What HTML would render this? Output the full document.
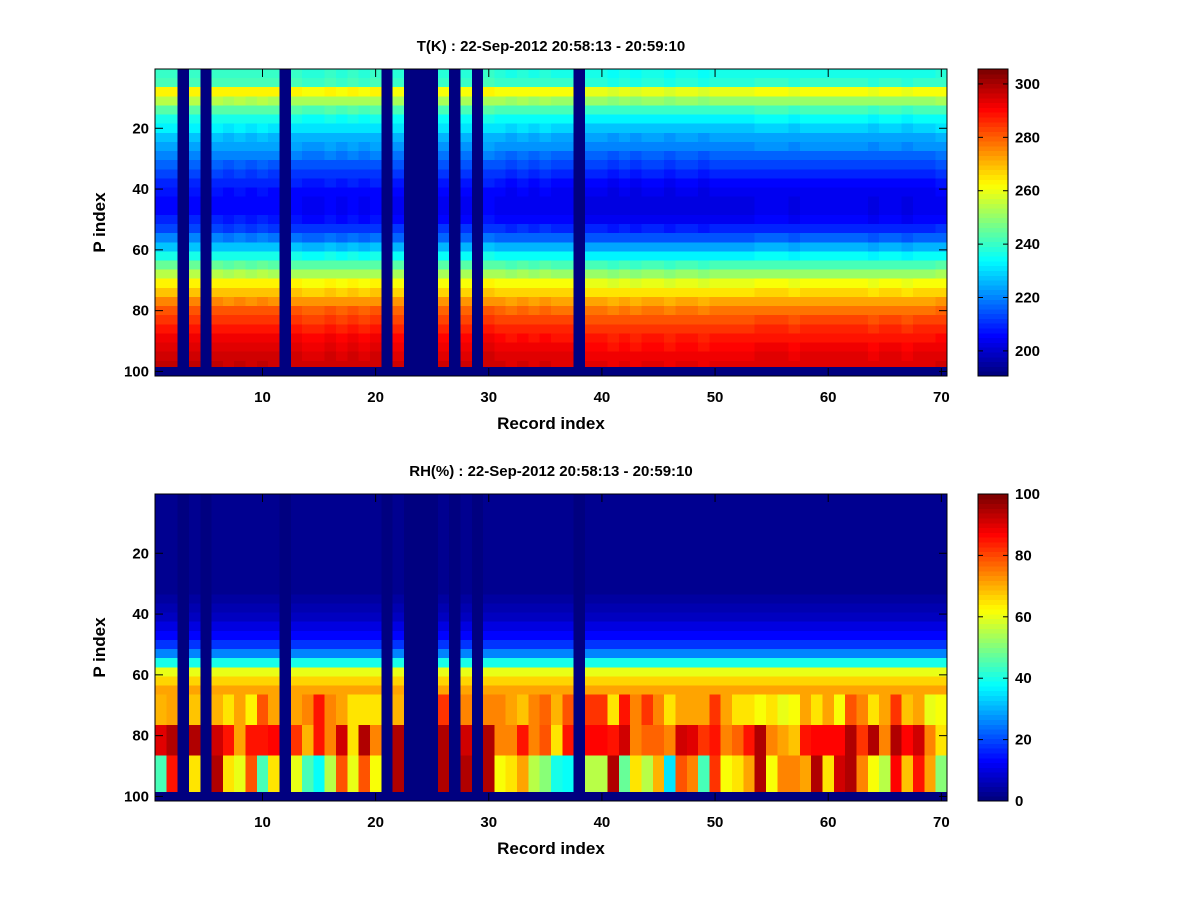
<!DOCTYPE html>
<html><head><meta charset="utf-8">
<style>
body{margin:0;background:#fff;}
svg{display:block;font-family:"Liberation Sans",Arial,sans-serif;font-weight:bold;}
</style></head>
<body>
<svg id="fig" width="1200" height="900" viewBox="0 0 1200 900" xmlns="http://www.w3.org/2000/svg">
<rect width="1200" height="900" fill="#fff"/>
<g id="top"></g>
<g id="bot"></g>
</svg>
<script>
// ---- data ----
const records = Array.from({length:70},(_,i)=>i+1);
const missingRecords = [3,5,12,21,23,24,25,27,29,38];
// temperature band values, each band = 3 P-index rows (rows 1..99)
const tBands = [238,240,262,252,242,235,230,225,222,218,214,210,207,205,204,204,206,210,217,226,235,243,252,262,268,274,280,284,288,291,293,295,296];
const tColOffset = [2,2,0,2,0,2,1,2,1,2,1,0,1,0,0,1,0,1,0,1,0,0,0,0,0,0,0,0,0,1,0,-1,0,-1,0,-1,-1,0,-2,-2,-3,-2,-3,-2,-2,-3,-2,-2,-3,-2,-2,-2,-2,-1,-1,-1,-2,-1,-1,-1,-1,-1,-1,-2,-1,-1,-2,-1,-1,0];
// RH band values for rows 1..66 (3 rows each)
const rhBands = [1,1,1,1,1,1,1,1,1,1,1,3,5,7,9,12,17,25,40,60,66,72];
// RH per-record values for row bands A (67-76), B (77-86), C (87-98)
const rhA = [70,72,0,68,0,70,65,72,63,80,72,0,72,75,85,75,72,65,65,65,0,70,0,0,0,82,0,75,0,75,75,72,68,75,78,70,80,0,82,82,65,85,75,82,75,65,72,72,72,82,72,65,65,62,65,60,62,72,65,72,62,80,75,65,72,82,68,72,60,62];
const rhB = [90,95,0,95,0,92,85,72,85,85,88,0,82,70,85,75,92,65,95,75,0,95,0,0,0,95,0,92,0,95,75,75,85,75,80,65,85,0,88,88,85,92,75,78,78,75,92,90,82,85,75,78,85,95,75,72,68,85,88,88,88,95,82,95,75,95,88,92,75,65];
const rhC = [45,85,0,65,0,95,65,60,80,45,65,0,60,45,38,55,80,60,80,62,0,95,0,0,0,95,0,95,0,95,62,65,72,55,50,40,38,0,55,55,95,48,65,55,70,35,80,75,45,82,62,65,72,95,62,75,75,72,95,65,92,95,75,62,55,88,68,85,72,50];
const pTicks = [20,40,60,80,100];
const xTicks = [10,20,30,40,50,60,70];
const tCbarTicks = [200,220,240,260,280,300];
const rhCbarTicks = [0,20,40,60,80,100];

const NS="http://www.w3.org/2000/svg";
function mk(parent,tag,attrs){const e=document.createElementNS(NS,tag);for(const k in attrs)e.setAttribute(k,attrs[k]);parent.appendChild(e);return e;}
function jet(t){t=Math.max(0,Math.min(1,t));t=Math.round(t*63)/63;
 const c=v=>Math.round(255*Math.max(0,Math.min(1,v)));
 return `rgb(${c(1.5-Math.abs(4*t-3))},${c(1.5-Math.abs(4*t-2))},${c(1.5-Math.abs(4*t-1))})`;}

function tValue(rec,row){
  if(missingRecords.includes(rec)||row>98) return null;
  return tBands[Math.floor((row-1)/3)]+tColOffset[rec-1];
}
function rhValue(rec,row){
  if(missingRecords.includes(rec)||row>98) return null;
  if(row<=66) return rhBands[Math.floor((row-1)/3)];
  if(row<=76) return rhA[rec-1];
  if(row<=86) return rhB[rec-1];
  return rhC[rec-1];
}

function panel(g,top,vmin,vmax,valFn,cbTicks,title,prefix){
  const L=155,R=947,T=top,B=top+307;
  const xs=r=>L+(r-0.5)*(R-L)/70;
  const ys=p=>T+(p-0.5)*(B-T)/101;
  const cells=mk(g,'g',{'shape-rendering':'crispEdges'});
  
  
  for(const rec of records){
    for(let row=1;row<=101;row++){
      const v=valFn(rec,row);
      const col=v===null?jet(0):jet((v-vmin)/(vmax-vmin));
      const x0=xs(rec-0.5),x1=xs(rec+0.5),y0=ys(row-0.5),y1=ys(row+0.5);
      const r=mk(cells,'rect',{x:x0.toFixed(2),y:y0.toFixed(2),width:(x1-x0+0.4).toFixed(2),height:(y1-y0+0.4).toFixed(2),fill:col});
      
      
    }
  }
  const box=mk(g,'rect',{x:L,y:T,width:R-L,height:B-T,fill:'none',stroke:'#000','stroke-width':1});
  
  
  for(const p of pTicks){
    const y=ys(p);
    mk(g,'line',{x1:L,x2:L+8,y1:y,y2:y,stroke:'#000'});
    mk(g,'line',{x1:R,x2:R-8,y1:y,y2:y,stroke:'#000'});
    const t=mk(g,'text',{x:L-6,y:y+5,'text-anchor':'end','font-size':15});
    t.textContent=p;
    
    
  }
  for(const r of xTicks){
    const x=xs(r);
    mk(g,'line',{x1:x,x2:x,y1:B,y2:B-8,stroke:'#000'});
    mk(g,'line',{x1:x,x2:x,y1:T,y2:T+8,stroke:'#000'});
    const t=mk(g,'text',{x:x,y:B+26,'text-anchor':'middle','font-size':15});
    t.textContent=r;
    
    
  }
  const tt=mk(g,'text',{x:551,y:T-18,'text-anchor':'middle','font-size':15});
  tt.textContent=title;
  
  
  const xl=mk(g,'text',{x:551,y:B+53,'text-anchor':'middle','font-size':17});
  xl.textContent='Record index';
  
  
  const yl=mk(g,'text',{x:0,y:0,'text-anchor':'middle','font-size':17,transform:`translate(105,${(T+B)/2}) rotate(-90)`});
  yl.textContent='P index';
  
  
  const CL=978,CR=1008;
  const cy=v=>B-(v-vmin)/(vmax-vmin)*(B-T);
  const cb=mk(g,'g',{'shape-rendering':'crispEdges'});
  
  
  for(let i=0;i<64;i++){
    const y0=B-(i+1)*(B-T)/64;
    mk(cb,'rect',{x:CL,y:y0.toFixed(2),width:CR-CL,height:((B-T)/64+0.5).toFixed(2),fill:jet(i/63)});
  }
  mk(g,'rect',{x:CL,y:T,width:CR-CL,height:B-T,fill:'none',stroke:'#000'});
  for(const v of cbTicks){
    const y=cy(v);
    mk(g,'line',{x1:CL,x2:CL+5,y1:y,y2:y,stroke:'#000'});
    mk(g,'line',{x1:CR,x2:CR-5,y1:y,y2:y,stroke:'#000'});
    const t=mk(g,'text',{x:CR+7,y:y+5,'font-size':15});
    t.textContent=v;
    
    
  }
}
panel(document.getElementById('top'),69,190.6,305.6,tValue,tCbarTicks,'T(K) : 22-Sep-2012 20:58:13 - 20:59:10','temperature');
panel(document.getElementById('bot'),494,0,100,rhValue,rhCbarTicks,'RH(%) : 22-Sep-2012 20:58:13 - 20:59:10','humidity');
</script>
</body></html>
